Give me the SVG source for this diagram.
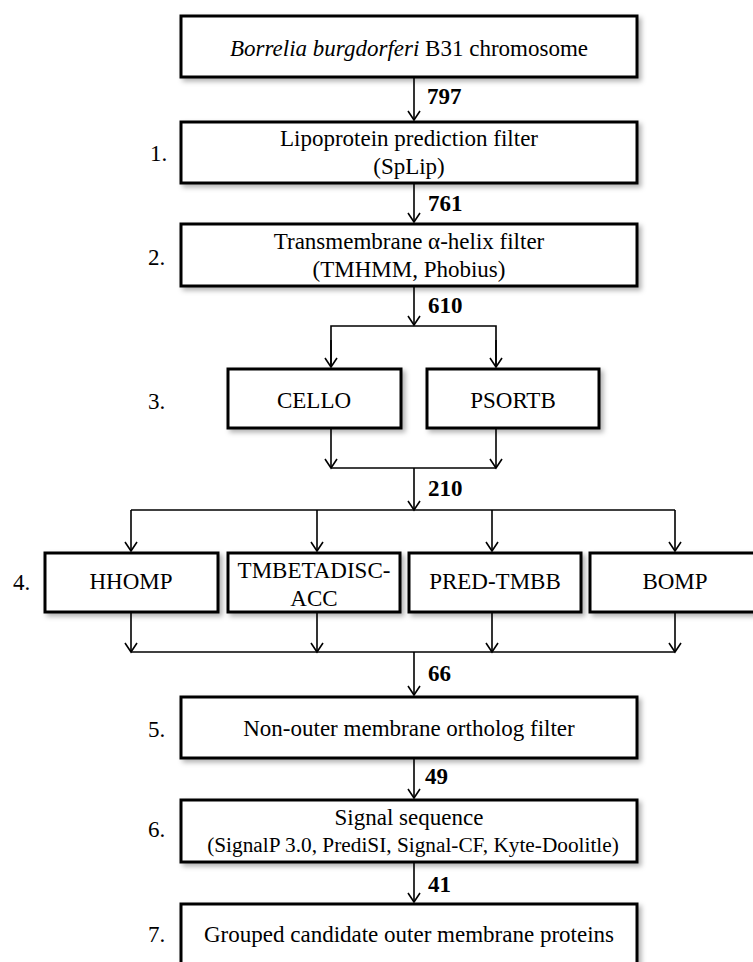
<svg xmlns="http://www.w3.org/2000/svg" width="753" height="962" viewBox="0 0 753 962">
<style>
.box{fill:#fff;stroke:#000;stroke-width:3;filter:url(#sh)}
.t{font-family:"Liberation Serif","Times New Roman",serif;font-size:23px;fill:#000;text-anchor:middle}
.t.sm{font-size:21.3px}
.n{font-family:"Liberation Serif","Times New Roman",serif;font-size:23px;font-weight:bold;fill:#000}
.s{font-family:"Liberation Serif","Times New Roman",serif;font-size:23px;fill:#000}
.c{fill:none;stroke:#000;stroke-width:1.6}
</style>
<defs>
<filter id="sh" x="-10%" y="-20%" width="125%" height="150%">
<feDropShadow dx="3" dy="3" stdDeviation="2.5" flood-color="#000" flood-opacity="0.3"/>
</filter>
<marker id="ar" markerUnits="userSpaceOnUse" markerWidth="20" markerHeight="20" refX="0" refY="0" orient="auto" overflow="visible">
<path d="M-9,-6 L0,0 L-9,6" fill="none" stroke="#000" stroke-width="1.6"/>
</marker>
</defs>
<rect width="753" height="962" fill="#fff"/>

<g id="connectors">
<line class="c" x1="414" y1="78" x2="414" y2="120" marker-end="url(#ar)"/>
<line class="c" x1="414" y1="184" x2="414" y2="222" marker-end="url(#ar)"/>
<line class="c" x1="414" y1="287" x2="414" y2="325" marker-end="url(#ar)"/>
<polyline class="c" points="331,367 331,326 496,326 496,367"/>
<line class="c" x1="331" y1="340" x2="331" y2="367" marker-end="url(#ar)"/>
<line class="c" x1="496" y1="340" x2="496" y2="367" marker-end="url(#ar)"/>
<line class="c" x1="331" y1="429" x2="331" y2="468" marker-end="url(#ar)"/>
<line class="c" x1="496" y1="429" x2="496" y2="468" marker-end="url(#ar)"/>
<line class="c" x1="331" y1="468" x2="496" y2="468"/>
<line class="c" x1="414" y1="468" x2="414" y2="510" marker-end="url(#ar)"/>
<line class="c" x1="131" y1="510" x2="675" y2="510"/>
<line class="c" x1="131" y1="510" x2="131" y2="551" marker-end="url(#ar)"/>
<line class="c" x1="317" y1="510" x2="317" y2="551" marker-end="url(#ar)"/>
<line class="c" x1="492" y1="510" x2="492" y2="551" marker-end="url(#ar)"/>
<line class="c" x1="675" y1="510" x2="675" y2="551" marker-end="url(#ar)"/>
<line class="c" x1="131" y1="613" x2="131" y2="652" marker-end="url(#ar)"/>
<line class="c" x1="317" y1="613" x2="317" y2="652" marker-end="url(#ar)"/>
<line class="c" x1="492" y1="613" x2="492" y2="652" marker-end="url(#ar)"/>
<line class="c" x1="675" y1="613" x2="675" y2="652" marker-end="url(#ar)"/>
<line class="c" x1="131" y1="652" x2="675" y2="652"/>
<line class="c" x1="414" y1="652" x2="414" y2="695" marker-end="url(#ar)"/>
<line class="c" x1="414" y1="759" x2="414" y2="798" marker-end="url(#ar)"/>
<line class="c" x1="414" y1="863" x2="414" y2="902" marker-end="url(#ar)"/>
<text class="n" x="427" y="104">797</text>
<text class="n" x="428" y="211">761</text>
<text class="n" x="428" y="313">610</text>
<text class="n" x="428" y="496">210</text>
<text class="n" x="428" y="681">66</text>
<text class="n" x="425" y="784">49</text>
<text class="n" x="428" y="892">41</text>
</g>

<g id="labels">
<text class="s" x="150" y="161">1.</text>
<text class="s" x="148" y="265">2.</text>
<text class="s" x="148" y="409">3.</text>
<text class="s" x="13" y="590">4.</text>
<text class="s" x="148" y="737">5.</text>
<text class="s" x="148" y="837">6.</text>
<text class="s" x="148" y="942">7.</text>
</g>

<g id="n0">
<rect class="box" x="181" y="16" width="456" height="61"/>
<text class="t" x="409" y="56"><tspan font-style="italic">Borrelia burgdorferi</tspan> B31 chromosome</text>
</g>
<g id="n1">
<rect class="box" x="181" y="122" width="456" height="61"/>
<text class="t" x="409" y="146">Lipoprotein prediction filter</text>
<text class="t" x="409" y="174">(SpLip)</text>
</g>
<g id="n2">
<rect class="box" x="181" y="224" width="456" height="62"/>
<text class="t" x="409" y="249">Transmembrane α-helix filter</text>
<text class="t" x="409" y="277">(TMHMM, Phobius)</text>
</g>
<g id="n3a">
<rect class="box" x="228" y="369" width="173" height="59"/>
<text class="t" x="314" y="408">CELLO</text>
</g>
<g id="n3b">
<rect class="box" x="427" y="369" width="172" height="59"/>
<text class="t" x="513" y="408">PSORTB</text>
</g>
<g id="n4a">
<rect class="box" x="45" y="553" width="173" height="59"/>
<text class="t" x="131" y="589">HHOMP</text>
</g>
<g id="n4b">
<rect class="box" x="228" y="553" width="172" height="59"/>
<text class="t" x="314" y="578">TMBETADISC-</text>
<text class="t" x="314" y="606">ACC</text>
</g>
<g id="n4c">
<rect class="box" x="409" y="553" width="172" height="59"/>
<text class="t" x="495" y="589">PRED-TMBB</text>
</g>
<g id="n4d">
<rect class="box" x="590" y="553" width="175" height="59"/>
<text class="t" x="675" y="589">BOMP</text>
</g>
<g id="n5">
<rect class="box" x="181" y="697" width="456" height="61"/>
<text class="t" x="409" y="736">Non-outer membrane ortholog filter</text>
</g>
<g id="n6">
<rect class="box" x="181" y="800" width="456" height="62"/>
<text class="t" x="409" y="825">Signal sequence</text>
<text class="t sm" x="413" y="852">(SignalP 3.0, PrediSI, Signal-CF, Kyte-Doolitle)</text>
</g>
<g id="n7">
<rect class="box" x="181" y="904" width="456" height="80"/>
<text class="t" x="409" y="942">Grouped candidate outer membrane proteins</text>
</g>
</svg>
